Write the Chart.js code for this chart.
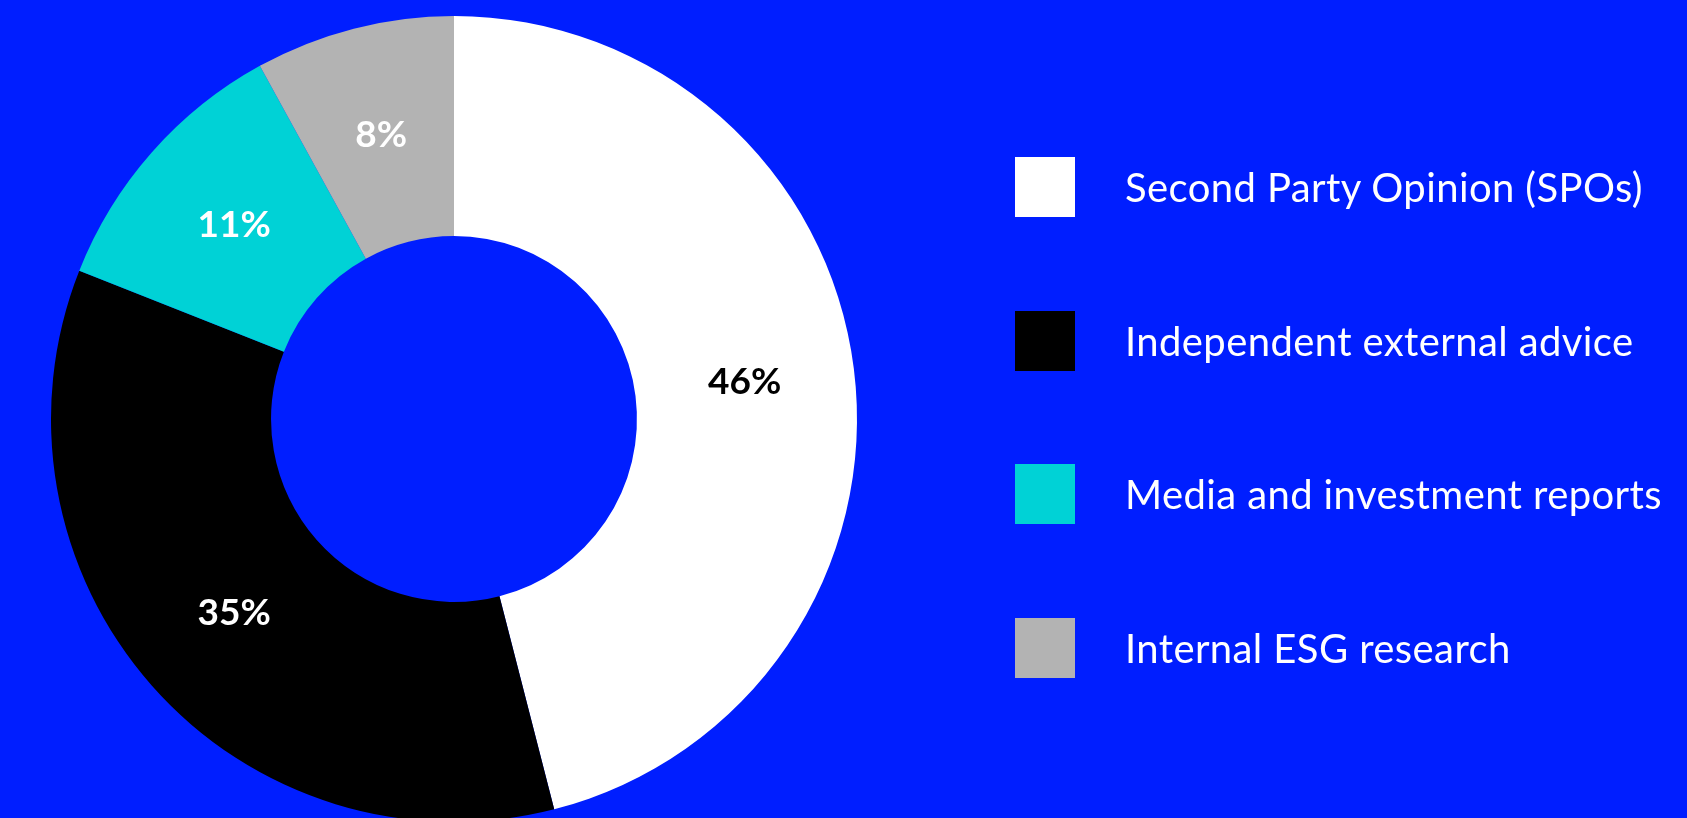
<!DOCTYPE html>
<html>
<head>
<meta charset="utf-8">
<script src="https://cdn.jsdelivr.net/npm/chart.js"></script>
<style>
  html, body { margin: 0; padding: 0; background: #001EFF; overflow: hidden; width: 1687px; height: 818px; }
  #wrap { position: absolute; left: 0; top: 0; width: 1687px; height: 822px; }
  #legend { position: absolute; left: 1015px; top: 157px; margin: 0; padding: 0; list-style: none; font-family: Lato, sans-serif; }
  #legend li { position: relative; height: 60px; margin-bottom: 93.5px; }
  #legend .box { position: absolute; left: 0; top: 0; width: 60px; height: 60px; }
  #legend .txt { position: absolute; left: 110px; top: 0; line-height: 60px; font-size: 40px; font-weight: 400; letter-spacing: 0.4px; color: #fff; white-space: nowrap; }
</style>
</head>
<body>
<div id="wrap"><canvas id="graph"></canvas></div>
<ul id="legend"></ul>
<script>
const categories = ['Second Party Opinion (SPOs)', 'Independent external advice', 'Media and investment reports', 'Internal ESG research'];
const shares = [46, 35, 11, 8];
const colors = ['#FFFFFF', '#000000', '#00D2D6', '#B3B3B3'];
const labelColors = ['#000000', '#FFFFFF', '#FFFFFF', '#FFFFFF'];

// légende HTML
const legend = document.getElementById('legend');
categories.forEach((c, i) => {
  let li = document.createElement('li');
  li.innerHTML = `<span class="box" style="background:${colors[i]}"></span><span class="txt">${c}</span>`;
  legend.appendChild(li);
});

// pourcentages dans les secteurs
const pctLabels = {
  id: 'pctLabels',
  afterDatasetsDraw(chart) {
    const ctx = chart.ctx;
    const meta = chart.getDatasetMeta(0);
    ctx.save();
    ctx.font = 'bold 37px Lato, sans-serif';
    ctx.textAlign = 'center';
    ctx.textBaseline = 'middle';
    meta.data.forEach((arc, i) => {
      const p = arc.tooltipPosition();
      ctx.fillStyle = labelColors[i];
      ctx.fillText(shares[i] + '%', p.x, p.y);
    });
    ctx.restore();
  }
};

new Chart(document.getElementById('graph'), {
  type: 'doughnut',
  data: {
    labels: categories,
    datasets: [{
      data: shares,
      backgroundColor: colors,
      borderWidth: 0,
      offset: 0,
      hoverOffset: 0
    }]
  },
  options: {
    responsive: true,
    maintainAspectRatio: false,
    animation: false,
    cutout: '45.4%',
    layout: { padding: { left: 51, right: 830, top: 16, bottom: 0 } },
    plugins: {
      legend: { display: false },
      tooltip: { enabled: false }
    }
  },
  plugins: [pctLabels]
});
</script>
</body>
</html>
